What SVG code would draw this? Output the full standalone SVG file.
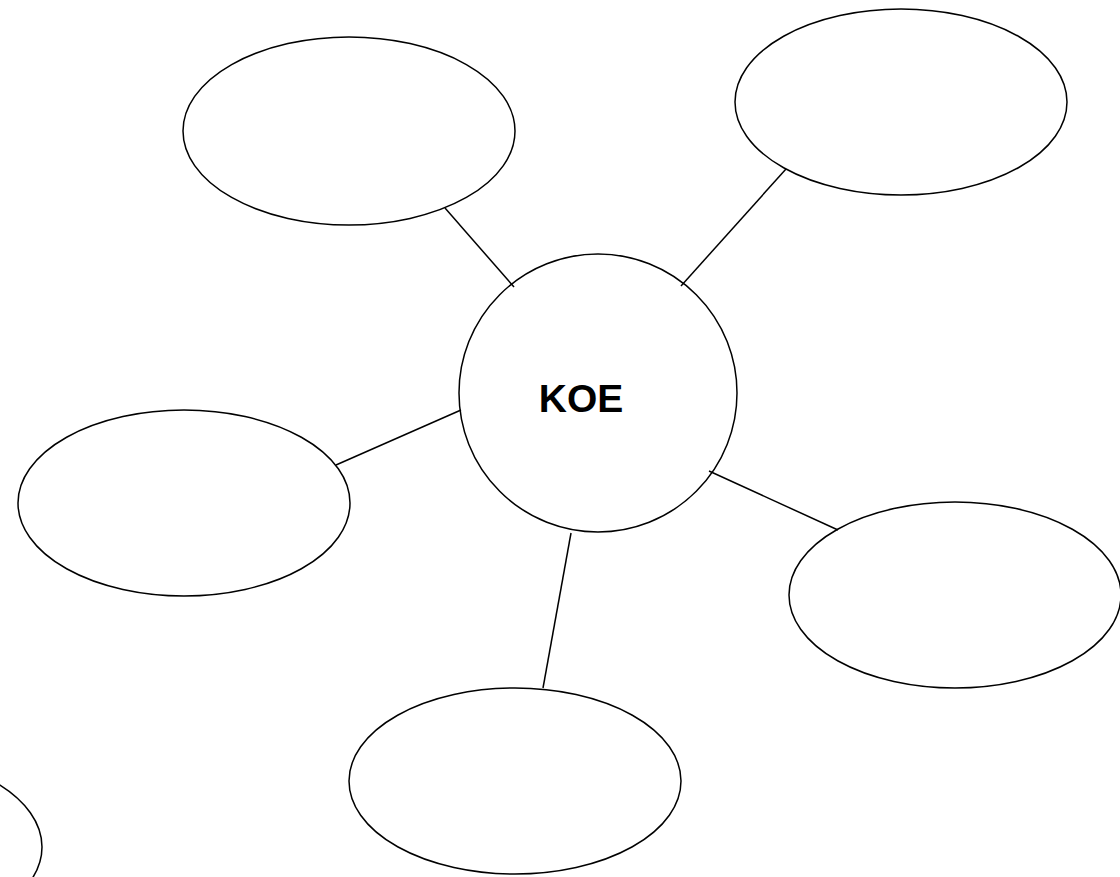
<svg xmlns="http://www.w3.org/2000/svg" width="1120" height="877" viewBox="0 0 1120 877">
<style>
.n{fill:#fff;stroke:#000;stroke-width:1.5}
.c{stroke:#000;stroke-width:1.5;fill:none}
.t{font-family:"Liberation Sans",Arial,sans-serif;font-weight:bold;font-size:39px;fill:#000}
</style>
<rect width="1120" height="877" fill="#fff"/>
<g id="node-top-left"><ellipse class="n" cx="349" cy="131" rx="166" ry="94"/></g>
<g id="node-top-right"><ellipse class="n" cx="901" cy="102" rx="166" ry="93"/></g>
<g id="node-left"><ellipse class="n" cx="184" cy="503" rx="166" ry="93"/></g>
<g id="node-right"><ellipse class="n" cx="955" cy="595" rx="166" ry="93"/></g>
<g id="node-bottom"><ellipse class="n" cx="515" cy="781" rx="166" ry="93"/></g>
<g id="node-partial"><ellipse class="n" cx="-124" cy="847" rx="166" ry="93"/></g>
<g id="node-center"><circle class="n" cx="598" cy="393" r="139"/><text class="t" x="581" y="412" text-anchor="middle">KOE</text></g>
<g id="connectors">
<line class="c" x1="445" y1="208" x2="514" y2="287"/>
<line class="c" x1="786" y1="169" x2="681" y2="286"/>
<line class="c" x1="461" y1="410" x2="336" y2="465"/>
<line class="c" x1="709" y1="471" x2="838" y2="530"/>
<line class="c" x1="571" y1="533" x2="543" y2="688"/>
</g>
</svg>
